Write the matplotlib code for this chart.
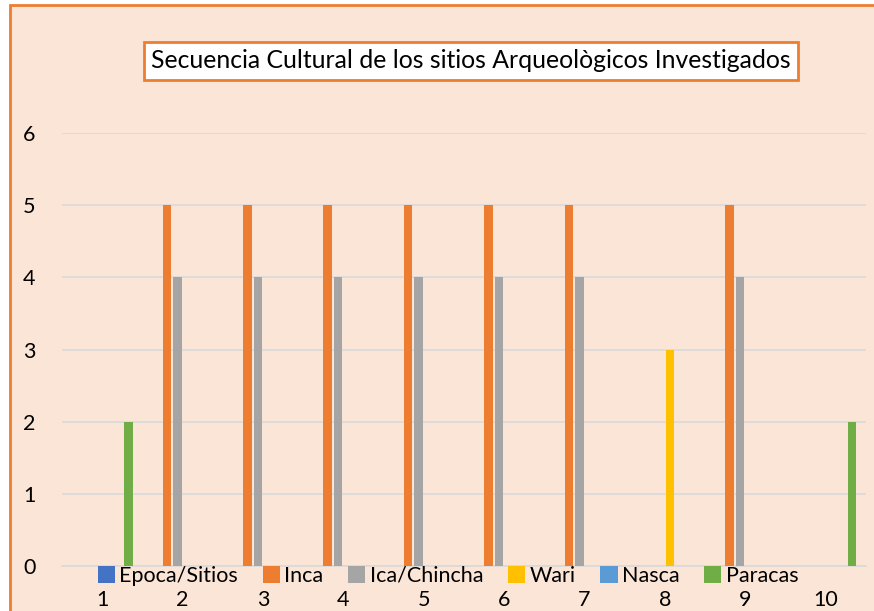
import numpy as np
import matplotlib.pyplot as plt
from matplotlib.patches import Rectangle

plt.rcParams['font.family'] = ['Lato', 'DejaVu Sans']

sitios = [1, 2, 3, 4, 5, 6, 7, 8, 9, 10]
series_names = ['Epoca/Sitios', 'Inca', 'Ica/Chincha', 'Wari', 'Nasca', 'Paracas']
epoca = [0, 0, 0, 0, 0, 0, 0, 0, 0, 0]
inca = [0, 5, 5, 5, 5, 5, 5, 0, 5, 0]
ica_chincha = [0, 4, 4, 4, 4, 4, 4, 0, 4, 0]
wari = [0, 0, 0, 0, 0, 0, 0, 3, 0, 0]
nasca = [0, 0, 0, 0, 0, 0, 0, 0, 0, 0]
paracas = [2, 0, 0, 0, 0, 0, 0, 0, 0, 2]
colors = ['#4472C4', '#ED7D31', '#A5A5A5', '#FFC000', '#5B9BD5', '#70AD47']

bg = '#FBE5D6'
fig = plt.figure(figsize=(8.74, 6.11), dpi=100)
fig.patch.set_facecolor('white')

# chart area with orange border (extends past right/bottom edges)
fig.patches.append(Rectangle((10 / 874, -0.1), 1.2, 1 - 5 / 611 + 0.1,
                             transform=fig.transFigure, facecolor=bg,
                             edgecolor='#ED7D31', linewidth=2, zorder=-5))

ax = fig.add_axes([62 / 874, 1 - 566 / 611, 804 / 874, 433 / 611])
ax.set_facecolor('none')

x = np.array(sitios)
slot = 10.5 / 80.5
width = 8.5 / 80.5
data = [epoca, inca, ica_chincha, wari, nasca, paracas]
for i, (name, vals) in enumerate(zip(series_names, data)):
    ax.bar(x + (i - 2.5) * slot, vals, width=width, color=colors[i], label=name, zorder=3)

ax.set_xlim(0.5, 10.5)
ax.set_ylim(0, 6)
ax.set_yticks(range(0, 7))
ax.set_xticks(sitios)
ax.grid(axis='y', color='#D9D9D9', linewidth=1.2, zorder=0)
for s in ['top', 'right', 'left']:
    ax.spines[s].set_visible(False)
ax.spines['bottom'].set_color('#D9D9D9')
ax.spines['bottom'].set_linewidth(1.2)
ax.tick_params(axis='x', length=0, pad=17, labelsize=15.5)
ax.tick_params(axis='y', length=0, pad=19, labelsize=15.5)

fig.text(471 / 874, 1 - 61 / 611,
         'Secuencia Cultural de los sitios Arqueològicos Investigados',
         ha='center', va='center', fontsize=17.8, color='black',
         bbox=dict(boxstyle='square,pad=0.3', facecolor='white',
                   edgecolor='#ED7D31', linewidth=2))

fig.legend(loc='center', bbox_to_anchor=(448 / 874, 1 - 576 / 611), ncol=6,
           frameon=False, fontsize=15.5, handlelength=0.8, handleheight=0.8,
           handletextpad=0.2, columnspacing=1.15, borderpad=0)

fig.savefig('out.png', dpi=100, facecolor=fig.get_facecolor())
